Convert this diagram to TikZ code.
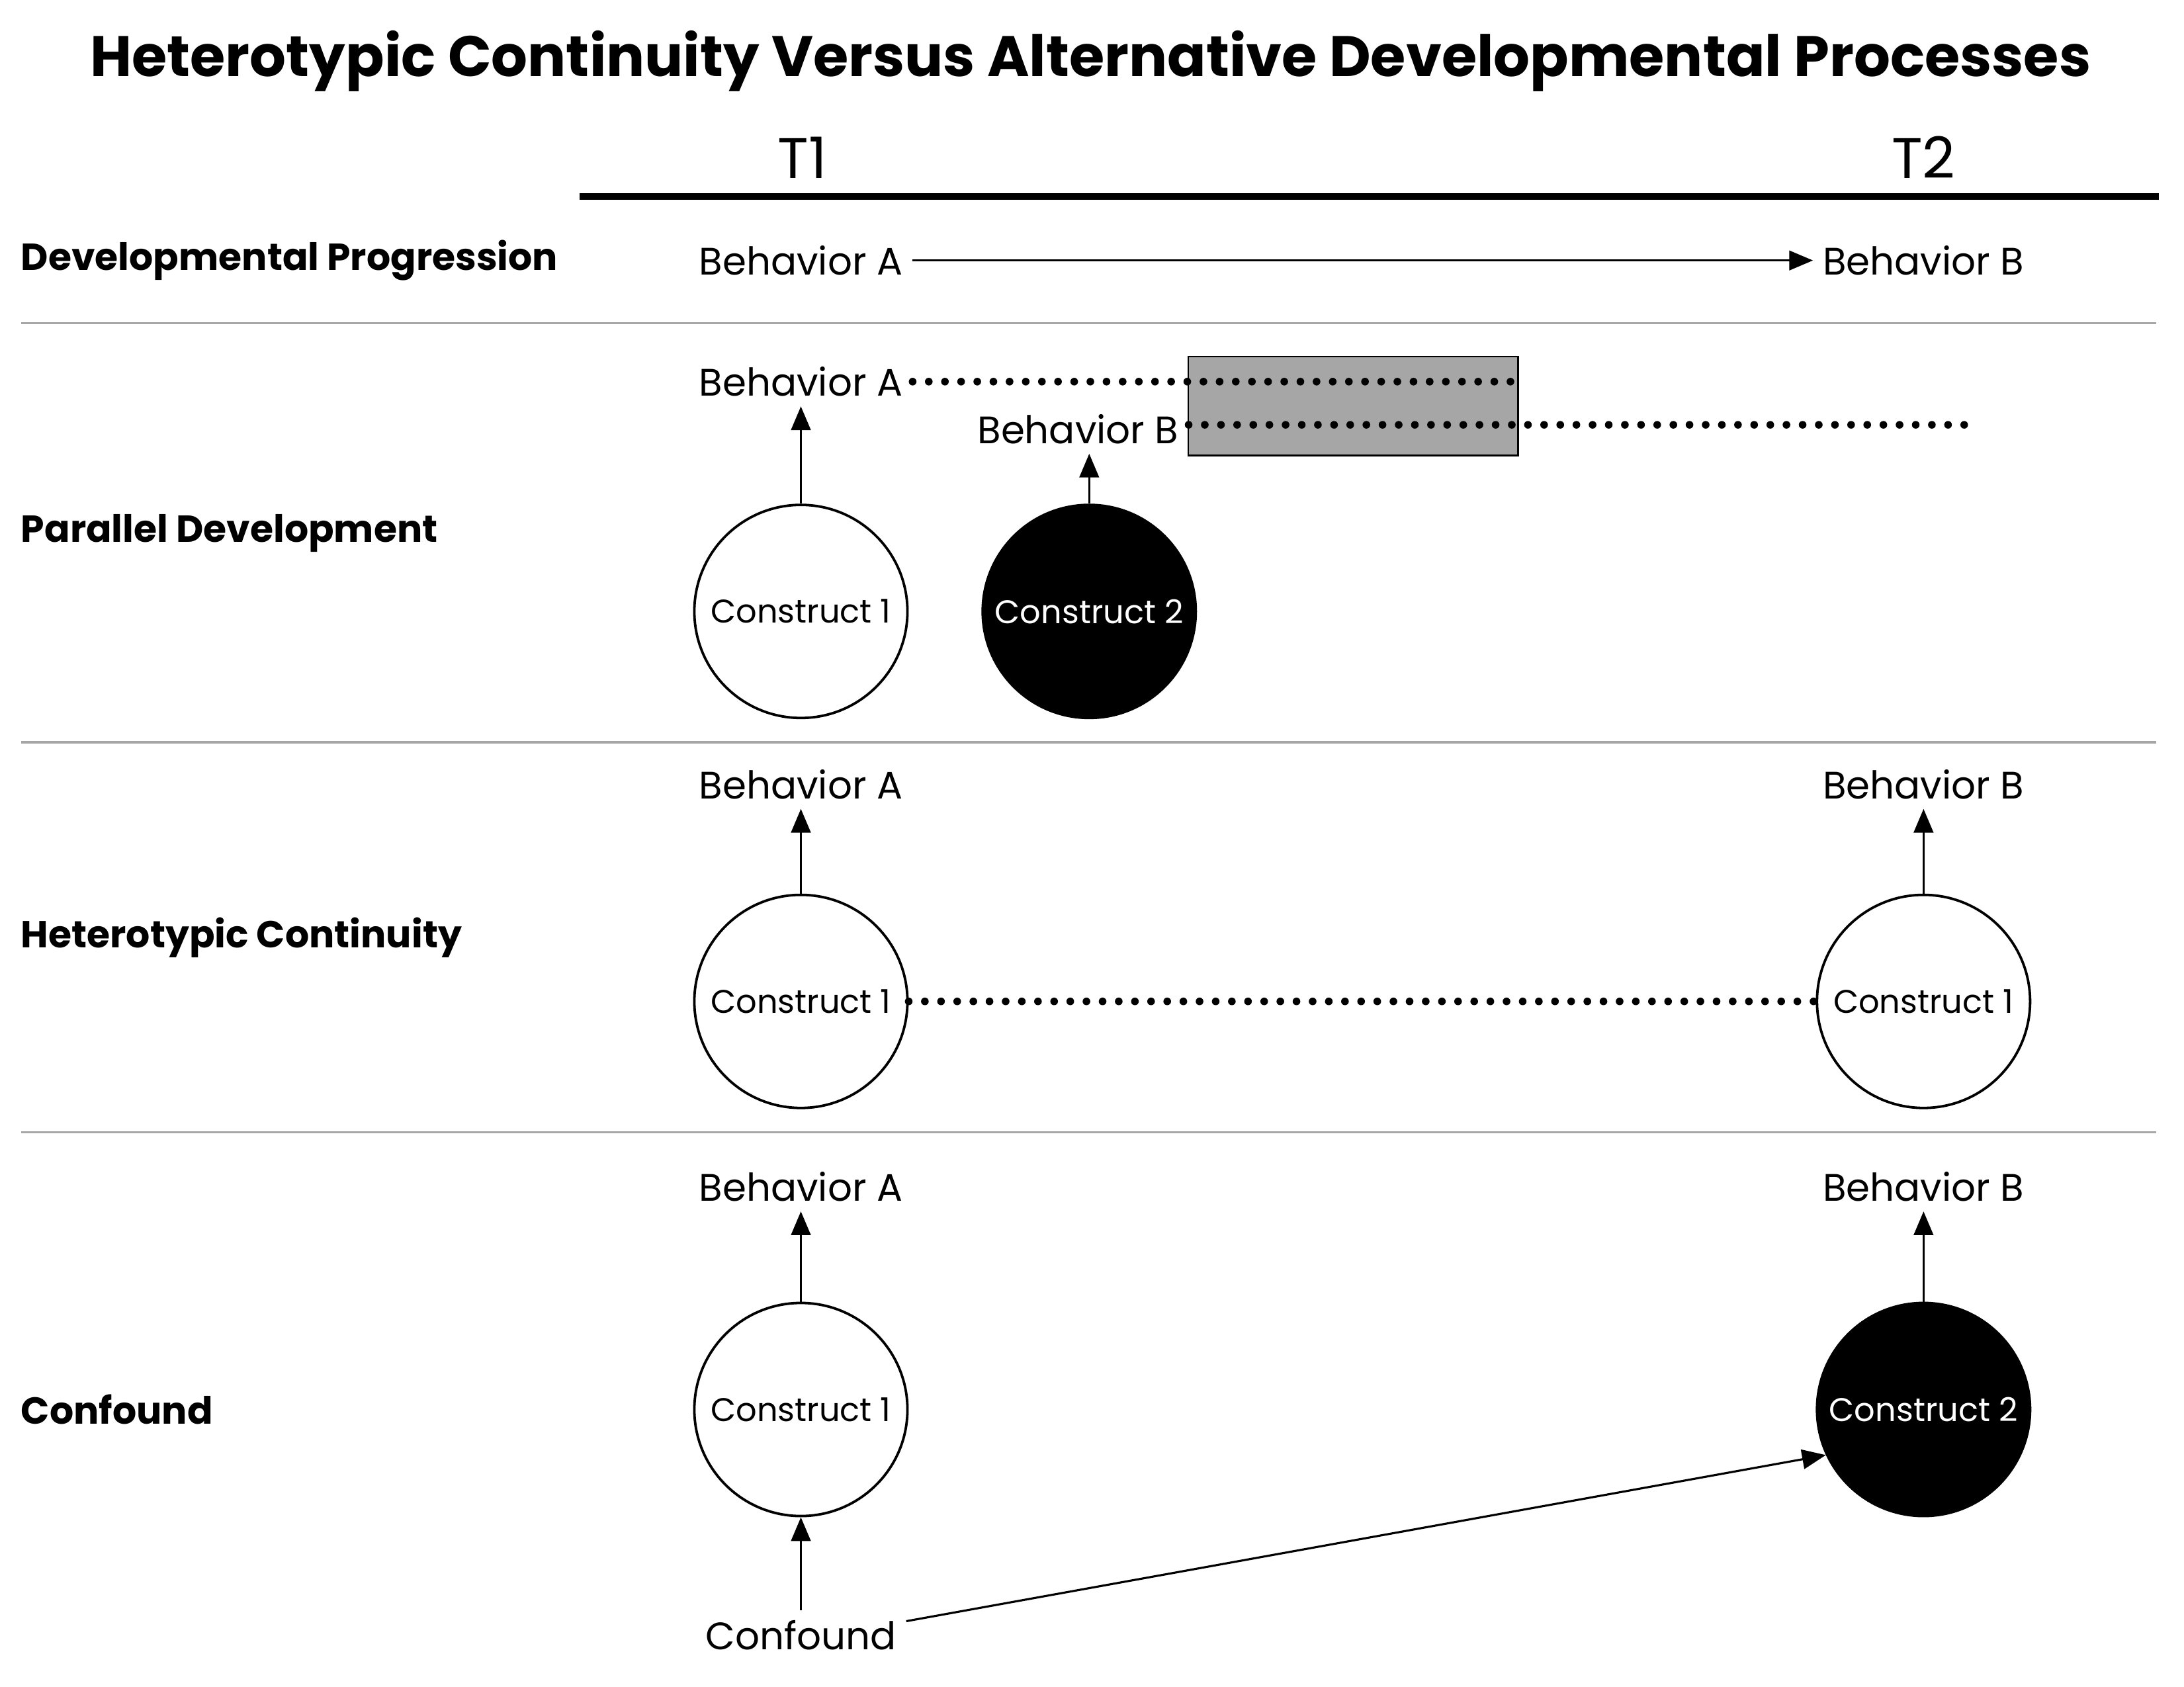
\documentclass[tikz,border=0pt]{standalone}
\usepackage{fontspec}
\setmainfont{Poppins}
\usetikzlibrary{arrows.meta}
\tikzset{
  lab/.style={font=\fontsize{27.5}{32}\selectfont, inner sep=7pt},
  rowlab/.style={font=\bfseries\fontsize{27}{32}\selectfont, anchor=west, inner sep=0pt},
  circ/.style={circle, draw, line width=1.8pt, minimum size=153pt, inner sep=0pt, font=\fontsize{23.5}{28}\selectfont},
  dcirc/.style={circ, fill=black, text=white},
  arr/.style={-{Triangle[length=17pt,width=14pt]}, line width=1.5pt},
  dots/.style={line width=5.5pt, line cap=round, dash pattern=on 0pt off 11.6pt},
  sep/.style={draw=black!35, line width=1.6pt}
}
\begin{document}
\begin{tikzpicture}[x=1pt,y=-1pt]
\useasboundingbox (0,0) rectangle (1568,1211);
% title and header
\node[font=\bfseries\fontsize{41}{48}\selectfont, inner sep=0pt] (title) at (783,44) {Heterotypic Continuity Versus Alternative Developmental Processes};
\node[font=\fontsize{41}{48}\selectfont, inner sep=0pt] (t1) at (576,113) {T1};
\node[font=\fontsize{41}{48}\selectfont, inner sep=0pt] (t2) at (1381,113) {T2};
\draw[line width=5pt] (416,141) -- (1550,141);
% separators
\draw[sep] (15,232) -- (1548,232);
\draw[sep] (15,533) -- (1548,533);
\draw[sep] (15,813) -- (1548,813);
% row labels
\node[rowlab] (r1) at (15,187) {Developmental Progression};
\node[rowlab] (r2) at (15,383) {Parallel Development};
\node[rowlab] (r3) at (15,673) {Heterotypic Continuity};
\node[rowlab] (r4) at (15,1012) {Confound};
% row 1
\node[lab] (b1a) at (575,187) {Behavior A};
\node[lab] (b1b) at (1381,187) {Behavior B};
\draw[arr] (b1a) -- (b1b);
% row 2
\draw[fill=black!35!white, draw=black, line width=1.2pt] (853,256) rectangle (1090,327);
\node[lab] (b2a) at (575,274) {Behavior A};
\node[lab] (b2b) at (774,308) {Behavior B};
\coordinate (d2a) at (1088,274);
\coordinate (d2b) at (1414,305);
\draw[dots] (b2a.east) -- (d2a);
\draw[dots] (b2b.east |- d2b) -- (d2b);
\node[circ] (c21) at (575,439) {Construct 1};
\node[dcirc] (c22) at (782,439) {Construct 2};
\draw[arr] (c21) -- (b2a);
\draw[arr] (c22.north) -- (c22.north |- b2b.south);
% row 3
\node[lab] (b3a) at (575,563) {Behavior A};
\node[lab] (b3b) at (1381,563) {Behavior B};
\node[circ] (c31) at (575,719) {Construct 1};
\node[circ] (c32) at (1381,719) {Construct 1};
\draw[arr] (c31) -- (b3a);
\draw[arr] (c32) -- (b3b);
\draw[dots] (c31.east) -- (c32.west);
% row 4
\node[lab] (b4a) at (575,852) {Behavior A};
\node[lab] (b4b) at (1381,852) {Behavior B};
\node[circ] (c41) at (575,1012) {Construct 1};
\node[dcirc] (c42) at (1381,1012) {Construct 2};
\node[lab] (conf) at (575,1174) {Confound};
\draw[arr] (c41) -- (b4a);
\draw[arr] (c42) -- (b4b);
\draw[arr] (conf) -- (c41);
\draw[arr] ([yshift=10pt]conf.east) -- (c42.205);
\end{tikzpicture}
\end{document}
